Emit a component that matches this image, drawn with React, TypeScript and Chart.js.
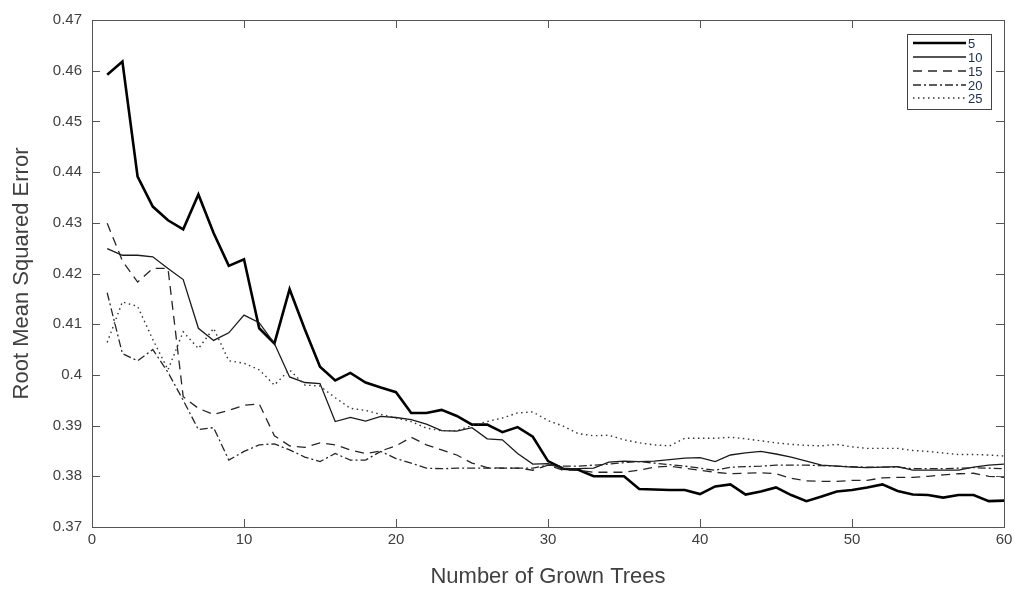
import { useEffect, useRef } from 'react';
import { Chart, registerables } from 'chart.js';

Chart.register(...registerables);

const trees = Array.from({ length: 60 }, (_, i) => i + 1);

const rmse5 = [
  0.4592, 0.4618, 0.4391, 0.4332, 0.4305, 0.4287, 0.4356, 0.4280, 0.4215, 0.4228,
  0.4092, 0.4062, 0.4169, 0.4090, 0.4016, 0.3989, 0.4004, 0.3985, 0.3975, 0.3966,
  0.3925, 0.3925, 0.3931, 0.3919, 0.3902, 0.3902, 0.3887, 0.3897, 0.3878, 0.3830,
  0.3815, 0.3813, 0.3800, 0.3800, 0.3800, 0.3775, 0.3774, 0.3773, 0.3773, 0.3765,
  0.3780, 0.3784, 0.3764, 0.3770, 0.3778, 0.3763, 0.3751, 0.3760, 0.3770, 0.3773,
  0.3778, 0.3784, 0.3771, 0.3764, 0.3763, 0.3758, 0.3763, 0.3763, 0.3751, 0.3752,
];

const rmse10 = [
  0.4249, 0.4236, 0.4236, 0.4233, 0.4210, 0.4188, 0.4092, 0.4068, 0.4083, 0.4118,
  0.4103, 0.4062, 0.3996, 0.3985, 0.3983, 0.3908, 0.3916, 0.3909, 0.3918, 0.3916,
  0.3912, 0.3903, 0.3890, 0.3889, 0.3896, 0.3874, 0.3872, 0.3845, 0.3824, 0.3825,
  0.3815, 0.3815, 0.3816, 0.3828, 0.3830, 0.3829, 0.3830, 0.3833, 0.3836, 0.3837,
  0.3829, 0.3842, 0.3846, 0.3849, 0.3844, 0.3838, 0.3830, 0.3822, 0.3820, 0.3818,
  0.3817, 0.3818, 0.3819, 0.3812, 0.3812, 0.3812, 0.3812, 0.3818, 0.3822, 0.3824,
];

const rmse15 = [
  0.4299, 0.4225, 0.4183, 0.4210, 0.4210, 0.3957, 0.3934, 0.3922, 0.3930, 0.3940,
  0.3943, 0.3880, 0.3860, 0.3857, 0.3866, 0.3862, 0.3852, 0.3845, 0.3850, 0.3860,
  0.3877, 0.3862, 0.3852, 0.3842, 0.3826, 0.3817, 0.3816, 0.3816, 0.3812, 0.3822,
  0.3812, 0.3812, 0.3808, 0.3808, 0.3808, 0.3812, 0.3818, 0.3820, 0.3816, 0.3812,
  0.3808, 0.3805, 0.3806, 0.3807, 0.3805, 0.3796, 0.3791, 0.3790, 0.3790, 0.3792,
  0.3792, 0.3797, 0.3798, 0.3798, 0.3800, 0.3803, 0.3805, 0.3806, 0.3800, 0.3798,
];

const rmse20 = [
  0.4162, 0.4042, 0.4028, 0.4050, 0.4005, 0.3950, 0.3892, 0.3896, 0.3832, 0.3849,
  0.3862, 0.3864, 0.3852, 0.3838, 0.3829, 0.3845, 0.3832, 0.3832, 0.3849, 0.3835,
  0.3826, 0.3816, 0.3815, 0.3816, 0.3816, 0.3816, 0.3816, 0.3816, 0.3816, 0.3822,
  0.3820, 0.3820, 0.3822, 0.3824, 0.3827, 0.3829, 0.3826, 0.3823, 0.3820, 0.3816,
  0.3812, 0.3818, 0.3819, 0.3820, 0.3822, 0.3822, 0.3822, 0.3821, 0.3820, 0.3819,
  0.3818, 0.3818, 0.3818, 0.3815, 0.3815, 0.3815, 0.3816, 0.3817, 0.3816, 0.3815,
];

const rmse25 = [
  0.4064, 0.4144, 0.4135, 0.4070, 0.4010, 0.4085, 0.4052, 0.4092, 0.4028, 0.4023,
  0.4010, 0.3980, 0.4010, 0.3980, 0.3978, 0.3955, 0.3934, 0.3930, 0.3922, 0.3915,
  0.3908, 0.3895, 0.3890, 0.3890, 0.3900, 0.3908, 0.3915, 0.3925, 0.3927, 0.3910,
  0.3899, 0.3884, 0.3880, 0.3881, 0.3872, 0.3866, 0.3862, 0.3860, 0.3875, 0.3875,
  0.3875, 0.3877, 0.3874, 0.3870, 0.3866, 0.3863, 0.3861, 0.3860, 0.3863, 0.3858,
  0.3855, 0.3855, 0.3855, 0.3851, 0.3849, 0.3846, 0.3843, 0.3843, 0.3842, 0.3840,
];

const seriesLabels = ['5', '10', '15', '20', '25'];
const xTickValues = [0, 10, 20, 30, 40, 50, 60];
const yTickValues = [0.37, 0.38, 0.39, 0.40, 0.41, 0.42, 0.43, 0.44, 0.45, 0.46, 0.47];

const styles = [
  { width: 2.6, dash: [] as number[], color: '#000000' },
  { width: 1.3, dash: [] as number[], color: '#1a1a1a' },
  { width: 1.3, dash: [9, 6], color: '#262626' },
  { width: 1.3, dash: [8, 3, 2, 3], color: '#262626' },
  { width: 1.4, dash: [1.5, 3.5], color: '#333333' },
];

const FONT = "'Liberation Sans', Arial, sans-serif";

const framePlugin = {
  id: 'frame',
  afterDraw(chart: any) {
    const { ctx, chartArea, scales } = chart;
    const { left, right, top, bottom } = chartArea;
    const xs = scales.x;
    const ys = scales.y;
    ctx.save();
    ctx.strokeStyle = '#555555';
    ctx.lineWidth = 1;
    ctx.setLineDash([]);
    ctx.strokeRect(Math.round(left) + 0.5, Math.round(top) + 0.5, Math.round(right - left), Math.round(bottom - top));
    const tl = 8;
    ctx.beginPath();
    for (const v of xTickValues) {
      const px = Math.round(xs.getPixelForValue(v)) + 0.5;
      ctx.moveTo(px, bottom);
      ctx.lineTo(px, bottom - tl);
      ctx.moveTo(px, top);
      ctx.lineTo(px, top + tl);
    }
    for (const v of yTickValues) {
      const py = Math.round(ys.getPixelForValue(v)) + 0.5;
      ctx.moveTo(left, py);
      ctx.lineTo(left + tl, py);
      ctx.moveTo(right, py);
      ctx.lineTo(right - tl, py);
    }
    ctx.stroke();

    // legend
    const lx = 907, ly = 34, lw = 84, lh = 75;
    ctx.fillStyle = '#ffffff';
    ctx.fillRect(lx, ly, lw, lh);
    ctx.strokeStyle = '#444444';
    ctx.strokeRect(lx + 0.5, ly + 0.5, lw, lh);
    const rowY = [43, 57, 71, 85, 98];
    seriesLabels.forEach((lab, i) => {
      const st = styles[i];
      ctx.beginPath();
      ctx.strokeStyle = st.color;
      ctx.lineWidth = st.width;
      ctx.setLineDash(st.dash);
      ctx.moveTo(913, rowY[i]);
      ctx.lineTo(966, rowY[i]);
      ctx.stroke();
      ctx.setLineDash([]);
      ctx.fillStyle = '#22304f';
      ctx.font = `13px ${FONT}`;
      ctx.textBaseline = 'middle';
      ctx.textAlign = 'left';
      ctx.fillText(lab, 968, rowY[i] + 1);
    });
    ctx.restore();
  },
};

export default function App() {
  const ref = useRef<HTMLCanvasElement | null>(null);

  useEffect(() => {
    if (!ref.current) return;
    const all = [rmse5, rmse10, rmse15, rmse20, rmse25];
    const chart = new Chart(ref.current, {
      type: 'line',
      data: {
        datasets: all.map((arr, i) => ({
          label: seriesLabels[i],
          data: trees.map((t, j) => ({ x: t, y: arr[j] })),
          borderColor: styles[i].color,
          borderWidth: styles[i].width,
          borderDash: styles[i].dash,
          pointRadius: 0,
          tension: 0,
          fill: false,
        })).reverse(),
      },
      options: {
        animation: false,
        responsive: false,
        layout: { padding: { top: 20, right: 10, left: 0, bottom: 0 } },
        plugins: {
          legend: { display: false },
          tooltip: { enabled: false },
        },
        scales: {
          x: {
            type: 'linear',
            min: 0,
            max: 60,
            afterBuildTicks: (s: any) => {
              s.ticks = xTickValues.map((v) => ({ value: v }));
            },
            afterFit: (s: any) => {
              s.height = 63;
              s.paddingLeft = 0;
              s.paddingRight = 0;
            },
            grid: { display: false, drawTicks: false },
            border: { display: false },
            ticks: {
              padding: 4,
              color: '#404040',
              font: { family: FONT, size: 15 },
              maxRotation: 0,
            },
            title: {
              display: true,
              text: 'Number of Grown Trees',
              color: '#404040',
              font: { family: FONT, size: 22 },
              padding: { top: 0, bottom: 0 },
            },
          },
          y: {
            type: 'linear',
            min: 0.37,
            max: 0.47,
            afterBuildTicks: (s: any) => {
              s.ticks = yTickValues.map((v) => ({ value: v }));
            },
            afterFit: (s: any) => {
              s.width = 92;
              s.paddingTop = 0;
              s.paddingBottom = 0;
            },
            grid: { display: false, drawTicks: false },
            border: { display: false },
            ticks: {
              padding: 10,
              color: '#404040',
              font: { family: FONT, size: 15 },
              callback: (v: any) => String(Number(Number(v).toFixed(2))),
            },
            title: {
              display: true,
              text: 'Root Mean Squared Error',
              color: '#404040',
              font: { family: FONT, size: 22 },
              padding: { top: 9, bottom: 0 },
            },
          },
        },
      },
      plugins: [framePlugin],
    });
    return () => chart.destroy();
  }, []);

  return (
    <div style={{ position: 'absolute', left: 0, top: 0, width: 1014, height: 590, background: '#ffffff' }}>
      <canvas ref={ref} width={1014} height={590} style={{ width: 1014, height: 590, display: 'block' }} />
    </div>
  );
}
